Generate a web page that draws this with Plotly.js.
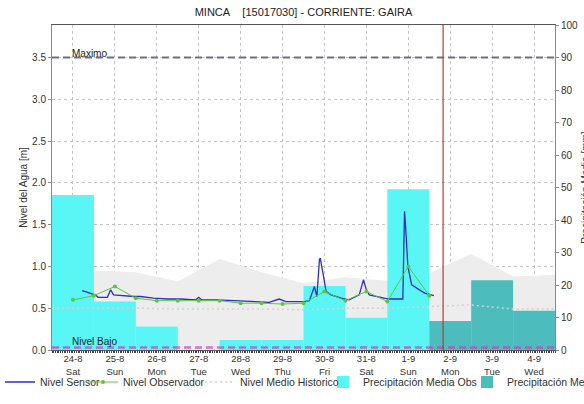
<!DOCTYPE html>
<html>
<head>
<meta charset="utf-8">
<script src="https://cdn.plot.ly/plotly-3.0.1.min.js"></script>
<style>
html,body{margin:0;padding:0;overflow:hidden;background:#fff;}
#chart{width:800px;height:404px;}
</style>
</head>
<body>
<div id="chart"></div>
<script>
// ---- data ----
const dayLabels = ['24-8','25-8','26-8','27-8','28-8','29-8','30-8','31-8','1-9','2-9','3-9','4-9'];
const weekDays  = ['Sat','Sun','Mon','Tue','Wed','Thu','Fri','Sat','Sun','Mon','Tue','Wed'];
const dayIndex  = [0,1,2,3,4,5,6,7,8,9,10,11];

// precipitation [mm]
const precipObs = [47.7, 14.9, 7.2, 0, 3.1, 3.1, 19.7, 9.9, 49.5, null, null, null];
const precipPro = [null, null, null, null, null, null, null, null, null, 8.9, 21.5, 12.1];

// historical band (day boundaries)
const histX    = [-0.5,0.5,1.5,2.5,3.5,4.5,5.5,6.5,7.5,8.5,9.5,10.5,11.5];
const histMax  = [1.24,0.95,0.93,0.82,1.09,0.93,0.80,0.87,0.83,0.92,1.15,0.88,0.90];
const histMean = [0.50,0.50,0.50,0.49,0.49,0.49,0.48,0.50,0.50,0.52,0.54,0.49,0.49];

// observer readings
const obsX = [0,0.5,1,1.5,2,2.5,3,3.5,4,4.5,5,5.5,6,6.5,7,7.5,8,8.5];
const obsY = [0.60,0.65,0.76,0.62,0.59,0.59,0.59,0.59,0.56,0.56,0.55,0.56,0.70,0.59,0.70,0.58,1.00,0.65];

// sensor readings
const sensorX = [0.22,0.53,0.60,0.82,0.90,0.97,1.45,1.61,1.92,2.25,2.57,2.93,3.0,3.07,3.45,3.84,3.96,4.48,4.68,4.92,5.08,5.52,5.64,5.76,5.82,5.88,5.90,5.95,6.0,6.04,6.16,6.40,6.59,6.83,6.93,7.0,7.07,7.29,7.53,7.87,7.89,7.91,7.94,7.99,8.08,8.25,8.39,8.61];
const sensorY = [0.71,0.66,0.63,0.63,0.72,0.66,0.64,0.64,0.62,0.61,0.61,0.60,0.63,0.60,0.60,0.59,0.58,0.57,0.57,0.61,0.58,0.58,0.59,0.76,0.64,1.08,1.10,0.96,0.80,0.70,0.66,0.62,0.60,0.66,0.84,0.72,0.66,0.64,0.61,0.61,0.98,1.66,1.44,1.00,0.78,0.72,0.68,0.65];

const nivelMaximo = 3.5;
const nivelBajo = 0.03;
const nowX = 8.83;
const levelTop = nivelMaximo * 100 / 90;

const font = 'Liberation Sans, Arial, sans-serif';
const W = 800, H = 404;

const traces = [
  {x: histX, y: histMax, type:'scatter', mode:'lines', fill:'tozeroy',
   fillcolor:'#ededed', line:{width:0, color:'#ededed'}, showlegend:false, hoverinfo:'skip', yaxis:'y'},
  {x: dayIndex, y: precipObs, type:'bar', width:1, name:'Precipitación Media Obs',
   marker:{color:'#5af6f6'}, yaxis:'y2', legend:'legend4'},
  {x: dayIndex, y: precipPro, type:'bar', width:1, name:'Precipitación Media Pronosticada',
   marker:{color:'#4cbcbc'}, yaxis:'y2', legend:'legend5'},
  {x: histX, y: histMean, type:'scatter', mode:'lines', name:'Nivel Medio Historico',
   line:{color:'#d2d2d2', width:1.5, dash:'2px,3px'}, yaxis:'y3', legend:'legend3'},
  {x: sensorX, y: sensorY, type:'scatter', mode:'lines', name:'Nivel Sensor',
   line:{color:'#2e2ec4', width:1.3}, yaxis:'y3', legend:'legend'},
  {x: obsX, y: obsY, type:'scatter', mode:'lines+markers', name:'Nivel Observador',
   line:{color:'#5ac83c', width:1}, marker:{color:'#5ac83c', size:4}, yaxis:'y3', legend:'legend2'}
];

function legendAt(px) {
  return {orientation:'h', xref:'container', yref:'container', x:px / W, xanchor:'left',
          y:1 - 382 / H, yanchor:'middle', bgcolor:'rgba(0,0,0,0)',
          font:{family:font, size:10.5, color:'#333'}};
}

const axisCommon = {
  showline:true, linecolor:'#8a8a8a', linewidth:1, ticks:'outside', ticklen:3, automargin:false,
  tickcolor:'#8a8a8a', tickfont:{family:font, size:10, color:'#333'}
};

const layout = {
  width:W, height:H,
  margin:{l:52, r:W-555, t:25, b:54},
  paper_bgcolor:'#fff', plot_bgcolor:'#fff',
  font:{family:font, size:10, color:'#333'},
  title:{text:'MINCA\u00a0\u00a0\u00a0\u00a0[15017030] - CORRIENTE: GAIRA',
         font:{family:font, size:11, color:'#222'}, x:(52+555)/2/W, xref:'container', xanchor:'center',
         y:1-12/H, yanchor:'middle'},
  barmode:'overlay',
  showlegend:true,
  legend: legendAt(-7),
  legend2: legendAt(83),
  legend3: legendAt(200),
  legend4: legendAt(323),
  legend5: legendAt(467),
  xaxis: Object.assign({}, axisCommon, {
    range:[-0.5, 11.5], tickvals: dayIndex,
    ticktext: dayLabels.map((d,i)=> d + '<br>' + weekDays[i]),
    ticks:'', ticklen:0,
    tickfont:{family:font, size:9.5, color:'#333'},
    showgrid:true, gridcolor:'#c4c4c4', griddash:'dot', gridwidth:1,
    mirror:true, linecolor:'#555', zeroline:false,
    minor:{dtick:1/24, ticklen:2, tickcolor:'#444', ticks:'outside', showgrid:false}
  }),
  yaxis: Object.assign({}, axisCommon, {
    range:[0, levelTop], tickvals:[0,0.5,1,1.5,2,2.5,3,3.5], tickformat:'.1f',
    showgrid:true, gridcolor:'#c4c4c4', griddash:'dot', zeroline:false,
    title:{text:'Nivel del Agua [m]', font:{family:font, size:10, color:'#333'}, standoff:2}
  }),
  yaxis2: Object.assign({}, axisCommon, {
    overlaying:'y', side:'right', range:[0,100], dtick:10, showgrid:false, zeroline:false,
    title:{text:'Precipitación Media [mm]', font:{family:font, size:10, color:'#333'}, standoff:4}
  }),
  yaxis3: {overlaying:'y', range:[0, levelTop], visible:false, showgrid:false, zeroline:false},
  shapes:[
    {type:'line', xref:'paper', x0:0, x1:1, yref:'y', y0:nivelMaximo, y1:nivelMaximo,
     line:{color:'#6e6e8c', width:2, dash:'7px,4px'}, layer:'above'},
    {type:'line', xref:'paper', x0:0, x1:1, yref:'y', y0:nivelBajo, y1:nivelBajo,
     line:{color:'rgba(205,60,205,0.72)', width:2.5, dash:'7px,4px'}, layer:'above'},
    {type:'line', xref:'x', x0:nowX, x1:nowX, yref:'paper', y0:0, y1:1,
     line:{color:'#b83a3a', width:1.2}, layer:'above'}
  ],
  annotations:[
    {text:'Maximo', xref:'x', x:0, yref:'y', y:nivelMaximo, xanchor:'left', yanchor:'bottom',
     showarrow:false, font:{family:font, size:10, color:'#222'}, yshift:-3, xshift:-3},
    {text:'Nivel Bajo', xref:'x', x:0, yref:'y', y:nivelBajo, xanchor:'left', yanchor:'bottom',
     showarrow:false, font:{family:font, size:10, color:'#222'}, yshift:-2, xshift:-3}
  ]
};

Plotly.newPlot('chart', traces, layout, {displayModeBar:false, staticPlot:true});
</script>
</body>
</html>
